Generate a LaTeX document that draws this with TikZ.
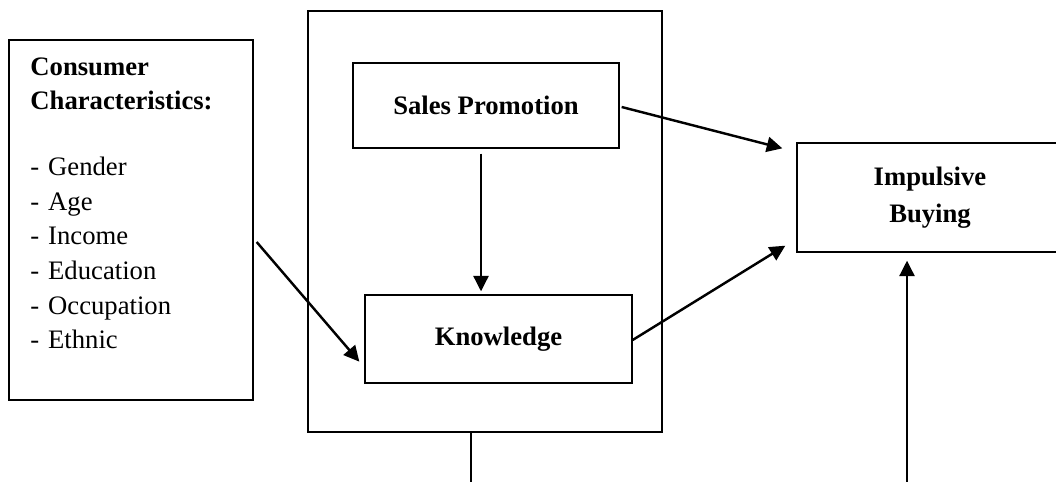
\documentclass[tikz,border=0pt]{standalone}
\usepackage{fontspec}
\setmainfont{Liberation Serif}
\usetikzlibrary{arrows.meta,positioning}

\newcommand\pxu{0.45pt}
\newcommand\itm[1]{-\hspace{4pt}#1}

\begin{document}
\begin{tikzpicture}[x=\pxu,y=-\pxu,
  box/.style={draw,line width=0.6pt,inner sep=0pt,font=\bfseries\fontsize{12}{16.4}\selectfont,align=center},
  link/.style={line width=1.1pt,-{Triangle[length=7pt,width=6.8pt]}}]

\useasboundingbox (0,0) rectangle (1056,481);
\clip (0,0) rectangle (1056,481);

% outer frame
\node[box,line width=0.9pt,minimum width=354*\pxu,minimum height=421*\pxu] (frame) at (485,221.5) {};

% consumer characteristics
\node[box,minimum width=244*\pxu,minimum height=360*\pxu] (cc) at (131,220) {};
\node[anchor=north west,inner sep=0pt,align=left,font=\fontsize{12}{15.6}\selectfont] (cclist) at (30,57)
  {\textbf{Consumer}\\ \textbf{Characteristics:}\\[14pt]
   \itm{Gender}\\ \itm{Age}\\ \itm{Income}\\ \itm{Education}\\ \itm{Occupation}\\ \itm{Ethnic}};

\node[box,minimum width=266*\pxu,minimum height=85*\pxu] (sp) at (486,105.5) {Sales Promotion};
\node[box,minimum width=267*\pxu,minimum height=88*\pxu] (kn) at (498.5,339) {Knowledge};

%%%%%%%%%%%%%%%%%%%%%%%%%%%%%%%%%%%%%%
\node[box,minimum width=266*\pxu,minimum height=109*\pxu] (ib) at (930,197.5) {Impulsive\\Buying};

\coordinate (frameout) at (471,490);
\coordinate (ibin) at (907,490);

\draw[link] ([shift={(-5,5)}]sp.south) -- ([shift={(-17.5,-3)}]kn.north);
\draw[link] ([shift={(2,1.5)}]sp.east) -- ([shift={(-14,6)}]ib.north west);
\draw[link] ([shift={(0,1)}]kn.east) -- ([shift={(-11,-7)}]ib.south west);
\draw[link] ([shift={(3,22)}]cc.east) -- ([shift={(-5,-22)}]kn.south west);

\draw[line width=0.6pt] ([shift={(-14,0)}]frame.south) -- (frameout);
\draw[link] (ibin) -- ([shift={(-23,8)}]ib.south);

\end{tikzpicture}
\end{document}
